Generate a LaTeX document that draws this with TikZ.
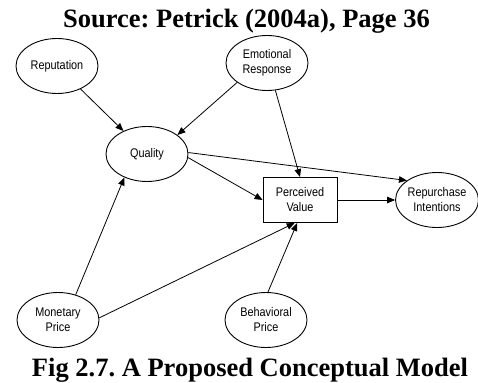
\documentclass[tikz,border=0pt]{standalone}
\usepackage{fontspec}
\setmainfont{Liberation Serif}
\newfontfamily\nodefont[FakeStretch=0.87]{Liberation Sans}
\usetikzlibrary{shapes.geometric,arrows.meta}
\frenchspacing
\begin{document}
\begin{tikzpicture}[x=1pt,y=-1pt,
  concept/.style={ellipse,draw,line width=0.9pt,minimum width=82pt,minimum height=55pt,
    inner sep=0pt,align=center,font=\nodefont\fontsize{12.5}{15}\selectfont},
  valuebox/.style={rectangle,draw,line width=0.9pt,minimum width=74pt,minimum height=45pt,
    inner sep=0pt,align=center,font=\nodefont\fontsize{12.5}{15}\selectfont},
  link/.style={draw,line width=0.8pt,-{Triangle[length=8pt,width=6.5pt]}},
  heading/.style={anchor=base,inner sep=0pt,font=\bfseries\fontsize{26.5}{30}\selectfont}]
\useasboundingbox (0,0) rectangle (478,382);

\node[heading] (title) at (246.5,28) {Source: Petrick (2004a), Page 36};
\node[heading] (caption) at (250,376) {Fig 2.7. A Proposed Conceptual Model};

\node[concept] (rep) at (57,66) {Reputation};
\node[concept] (emo) at (267,63) {Emotional\\Response};
\node[concept] (qual) at (147,154) {Quality};
\node[valuebox] (pv) at (300,200) {Perceived\\Value};
\node[concept] (rp) at (437,200) {Repurchase\\Intentions};
\node[concept] (mon) at (58,320) {Monetary\\Price};
\node[concept] (beh) at (266,320) {Behavioral\\Price};

\path[link] (rep) -- (qual);
\path[link] (emo.213) -- (qual.32);
\path[link] (emo.-73) -- (pv.north);
\path[link] (qual.-5) -- (pv.west);
\path[link] (qual.2) -- (rp.147);
\path[link] (pv.east) -- (rp.west);
\path[link] (mon.55) -- (qual.-134);
\path[link] (mon.3) -- (pv.-103);
\path[link] (beh.86) -- (pv.-97);
\end{tikzpicture}
\end{document}
